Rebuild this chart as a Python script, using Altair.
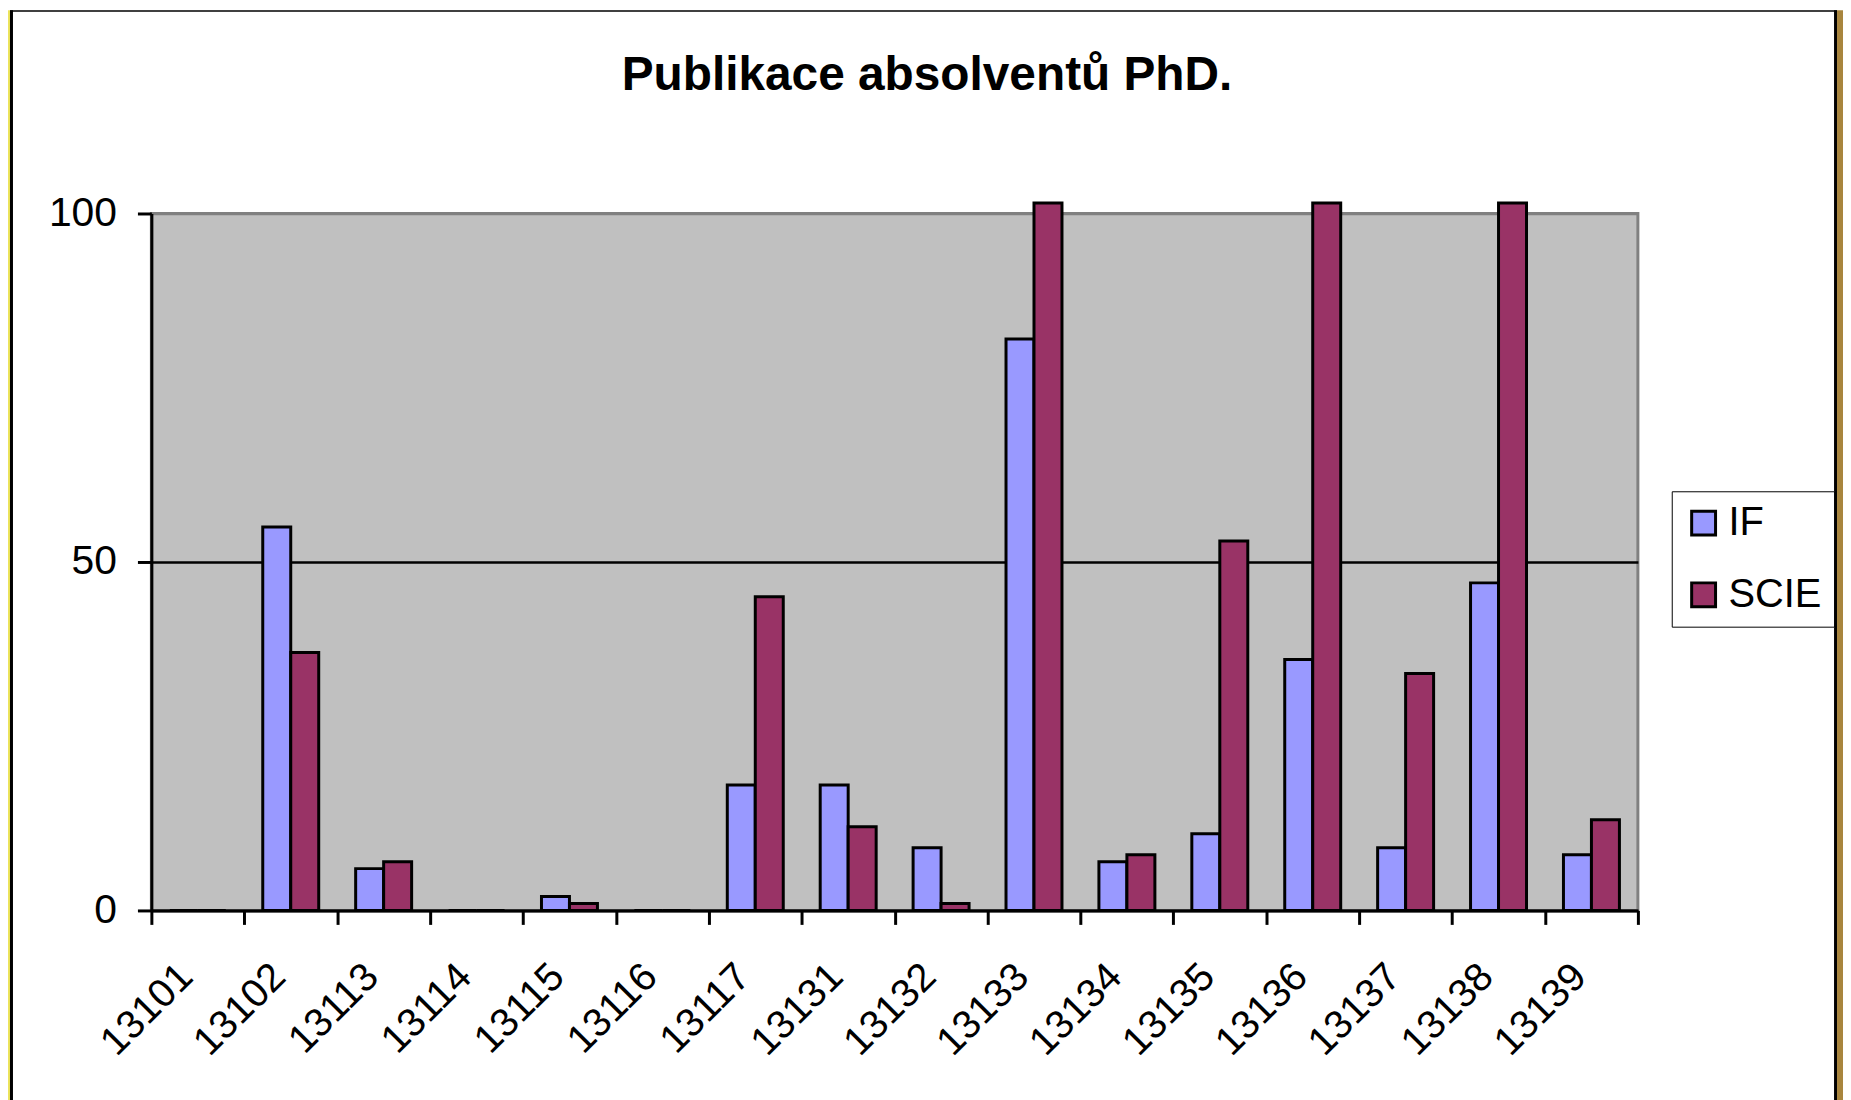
import altair as alt
import pandas as pd

# ---- data ----
categories = ["13101", "13102", "13113", "13114", "13115", "13116", "13117", "13131",
              "13132", "13133", "13134", "13135", "13136", "13137", "13138", "13139"]
series = ["IF", "SCIE"]
if_values = [0, 55, 6, 0, 2, 0, 18, 18, 9, 82, 7, 11, 36, 9, 47, 8]
# SCIE bars of 13133, 13136, 13138 run past the top of the axis (drawn cut off at ~101.5)
scie_values = [0, 37, 7, 0, 1, 0, 45, 12, 1, 101.5, 8, 53, 101.5, 34, 101.5, 13]
colors = ["#9999ff", "#993366"]
y_ticks = [0, 50, 100]
title_text = "Publikace absolventů PhD."

FONT = "Liberation Sans"

rows = []
for c, a, b in zip(categories, if_values, scie_values):
    rows.append({"category": c, "series": "IF", "value": a})
    rows.append({"category": c, "series": "SCIE", "value": b})
df = pd.DataFrame(rows)

PLOT_W, PLOT_H = 1493, 700
TOP = 204
LEFT = 144

bars = alt.Chart(df).mark_bar(stroke="black", strokeWidth=3).encode(
    x=alt.X("category:N", sort=categories,
            scale=alt.Scale(paddingInner=0, paddingOuter=0),
            axis=alt.Axis(title=None, tickBand="extent", labelAngle=-45,
                          labelAlign="right", labelBaseline="middle",
                          labelPadding=46, labelOffset=-12, labelFontSize=40,
                          labelFont=FONT, labelColor="black",
                          tickSize=14, tickWidth=3, tickColor="black",
                          domainColor="black", domainWidth=3, grid=False)),
    xOffset=alt.XOffset("series:N", sort=series,
                        scale=alt.Scale(paddingInner=0, paddingOuter=0.66)),
    y=alt.Y("value:Q", scale=alt.Scale(domain=[0, 100], nice=False),
            axis=alt.Axis(title=None, values=y_ticks, labelFontSize=41,
                          labelFont=FONT, labelColor="black", labelPadding=21,
                          tickSize=14, tickWidth=3, tickColor="black",
                          domainColor="black", domainWidth=3,
                          grid=True, gridWidth=2.5,
                          gridColor=alt.condition("datum.value == 100",
                                                  alt.value("#808080"),
                                                  alt.value("black")))),
    color=alt.Color("series:N", sort=series,
                    scale=alt.Scale(domain=series, range=colors),
                    legend=alt.Legend(title=None, orient="none",
                                      legendX=1527, legendY=279,
                                      symbolType="square", symbolSize=576,
                                      symbolStrokeColor="black", symbolStrokeWidth=3,
                                      labelFontSize=40, labelFont=FONT,
                                      labelColor="black", labelOffset=5,
                                      fillColor="white", strokeColor="black",
                                      padding=12, rowPadding=32)),
)

one = pd.DataFrame({"t": [title_text]})

title = alt.Chart(one).mark_text(
    font=FONT, fontSize=48, fontWeight="bold", align="center",
    baseline="alphabetic", color="black"
).encode(x=alt.value(779), y=alt.value(-124), text="t:N")

# decorative frame (yellow/gold page border with black line)
BOT = 900
left_strip = alt.Chart(one).mark_rect(color="#ece45c").encode(
    x=alt.value(-LEFT), x2=alt.value(-142), y=alt.value(-TOP), y2=alt.value(BOT))
left_line = alt.Chart(one).mark_rect(color="black").encode(
    x=alt.value(-142), x2=alt.value(-139), y=alt.value(-TOP), y2=alt.value(BOT))
top_line = alt.Chart(one).mark_rect(color="black").encode(
    x=alt.value(-142), x2=alt.value(1693), y=alt.value(-TOP), y2=alt.value(-TOP + 1.5))
right_line = alt.Chart(one).mark_rect(color="black").encode(
    x=alt.value(1690), x2=alt.value(1693), y=alt.value(-TOP), y2=alt.value(BOT))
right_strip = alt.Chart(one).mark_rect(color="#a8853e").encode(
    x=alt.value(1693), x2=alt.value(1700), y=alt.value(-TOP), y2=alt.value(BOT))

chart = alt.layer(
    bars, title, left_strip, left_line, top_line, right_line, right_strip
).properties(
    width=PLOT_W, height=PLOT_H,
    padding={"left": LEFT, "top": TOP, "right": 1843 - LEFT - PLOT_W, "bottom": 188},
    autosize=alt.AutoSizeParams(type="none"),
    background="white",
).configure(font=FONT).configure_view(fill="#c0c0c0", stroke="#808080", strokeWidth=3)

chart.save("out.html", embed_options={"renderer": "svg", "actions": False})
